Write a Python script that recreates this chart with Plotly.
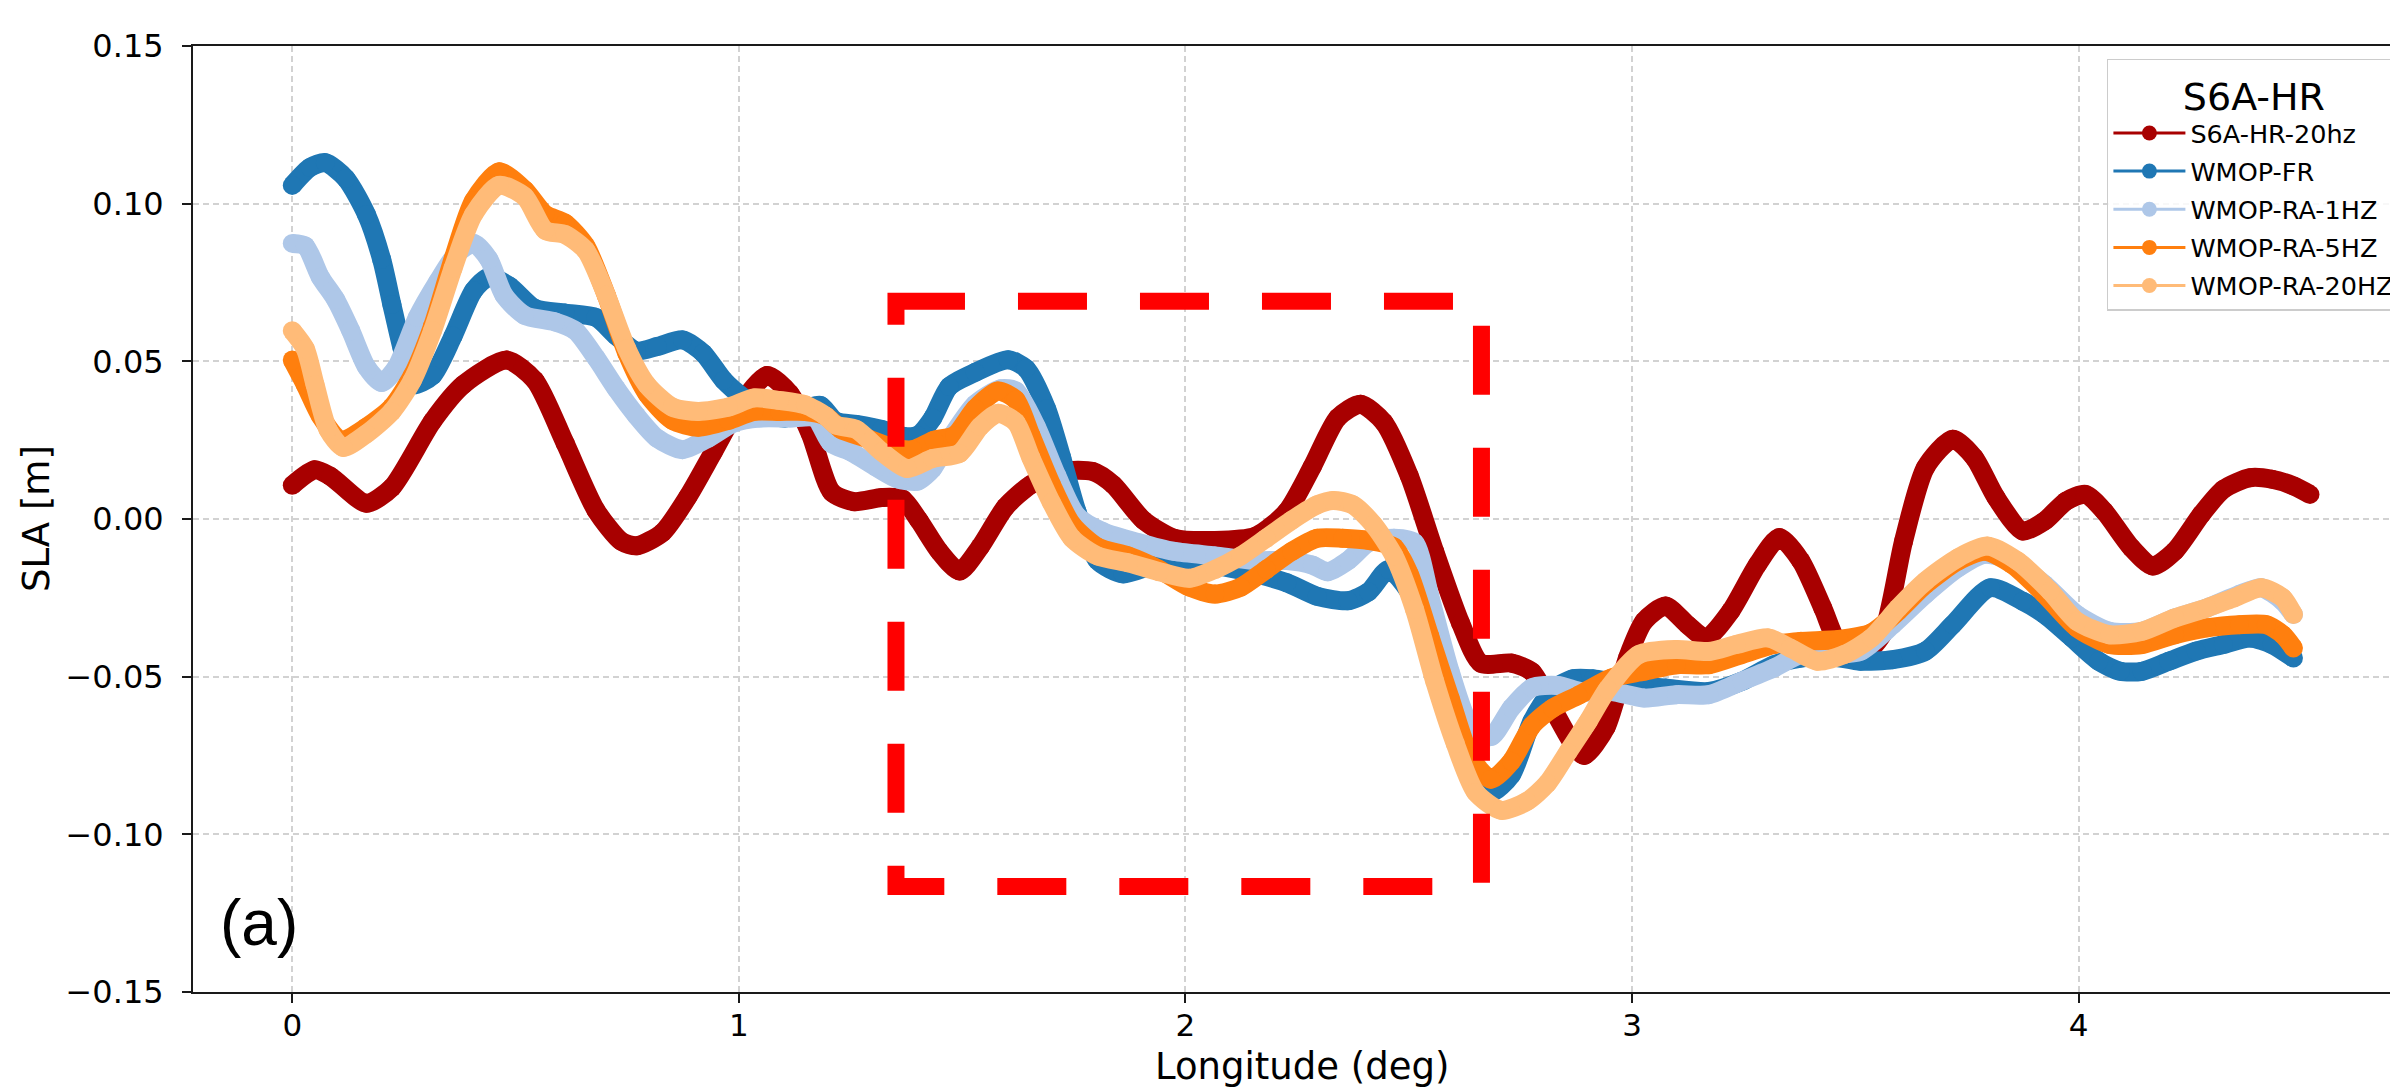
import plotly.graph_objects as go

# ---------------- data ----------------
series_names = ["S6A-HR-20hz", "WMOP-FR", "WMOP-RA-1HZ", "WMOP-RA-5HZ", "WMOP-RA-20HZ"]
series_colors = ["#a80000", "#1f77b4", "#aec7e8", "#ff7f0e", "#ffbb78"]

s6a_lon = [0.000, 0.050, 0.086, 0.166, 0.223, 0.314, 0.383, 0.480, 0.543, 0.611, 0.680, 0.737, 0.771, 0.829,
           0.886, 0.943, 1.000, 1.063, 1.114, 1.160, 1.208, 1.258, 1.320, 1.366, 1.403, 1.449, 1.494, 1.540,
           1.597, 1.654, 1.723, 1.792, 1.838, 1.906, 1.975, 2.066, 2.158, 2.227, 2.284, 2.341, 2.392, 2.444,
           2.501, 2.558, 2.616, 2.661, 2.730, 2.776, 2.822, 2.867, 2.893, 2.942, 2.990, 3.027, 3.075, 3.124,
           3.166, 3.221, 3.281, 3.330, 3.378, 3.427, 3.463, 3.512, 3.560, 3.608, 3.657, 3.718, 3.766, 3.815,
           3.875, 3.924, 3.972, 4.015, 4.057, 4.118, 4.166, 4.215, 4.275, 4.324, 4.384, 4.433, 4.481, 4.518]
s6a_sla = [0.0107, 0.0156, 0.0135, 0.0050, 0.0100, 0.0310, 0.0426, 0.0504, 0.0440, 0.0240, 0.0028, -0.0071,
           -0.0085, -0.0043, 0.0071, 0.0213, 0.0355, 0.0455, 0.0398, 0.0270, 0.0085, 0.0055, 0.0068, 0.0064,
           -0.0004, -0.0103, -0.0165, -0.0089, 0.0038, 0.0109, 0.0151, 0.0151, 0.0109, -0.0004, -0.0061,
           -0.0068, -0.0054, 0.0024, 0.0166, 0.0321, 0.0364, 0.0307, 0.0137, -0.0103, -0.0330, -0.0457,
           -0.0457, -0.0485, -0.0600, -0.0712, -0.0750, -0.0660, -0.0440, -0.0324, -0.0276, -0.0335, -0.0377,
           -0.0292, -0.0144, -0.0059, -0.0133, -0.0282, -0.0398, -0.0435, -0.0367, -0.0070, 0.0163, 0.0253,
           0.0195, 0.0068, -0.0038, -0.0006, 0.0057, 0.0078, 0.0025, -0.0091, -0.0149, -0.0102, 0.0015,
           0.0094, 0.0131, 0.0126, 0.0105, 0.0078]

fr_lon = [0.000, 0.040, 0.074, 0.120, 0.166, 0.200, 0.223, 0.246, 0.269, 0.314, 0.360, 0.406, 0.440, 0.486,
          0.543, 0.611, 0.680, 0.726, 0.771, 0.817, 0.874, 0.920, 0.966, 1.011, 1.057, 1.103, 1.160, 1.183,
          1.217, 1.263, 1.320, 1.366, 1.400, 1.434, 1.471, 1.529, 1.603, 1.643, 1.689, 1.723, 1.757, 1.803,
          1.860, 1.929, 1.998, 2.066, 2.158, 2.227, 2.295, 2.364, 2.410, 2.455, 2.501, 2.547, 2.593, 2.638,
          2.684, 2.730, 2.776, 2.822, 2.867, 2.913, 2.954, 3.027, 3.075, 3.172, 3.245, 3.318, 3.378, 3.439,
          3.512, 3.584, 3.657, 3.718, 3.802, 3.875, 3.924, 3.985, 4.045, 4.093, 4.142, 4.202, 4.263, 4.324,
          4.384, 4.433, 4.481]
fr_sla = [0.1058, 0.1115, 0.1130, 0.1080, 0.0966, 0.0824, 0.0680, 0.0540, 0.0426, 0.0455, 0.0580, 0.0724,
          0.0767, 0.0739, 0.0668, 0.0653, 0.0639, 0.0580, 0.0533, 0.0547, 0.0568, 0.0526, 0.0440, 0.0384,
          0.0341, 0.0320, 0.0355, 0.0360, 0.0310, 0.0300, 0.0284, 0.0263, 0.0265, 0.0320, 0.0420, 0.0465,
          0.0505, 0.0477, 0.0350, 0.0194, 0.0024, -0.0132, -0.0174, -0.0146, -0.0132, -0.0146, -0.0174,
          -0.0202, -0.0245, -0.0259, -0.0231, -0.0160, -0.0231, -0.0372, -0.0570, -0.0754, -0.0867, -0.0811,
          -0.0641, -0.0542, -0.0507, -0.0507, -0.0515, -0.0530, -0.0536, -0.0547, -0.0515, -0.0462, -0.0441,
          -0.0435, -0.0451, -0.0446, -0.0419, -0.0335, -0.0218, -0.0261, -0.0303, -0.0377, -0.0451, -0.0483,
          -0.0483, -0.0451, -0.0419, -0.0398, -0.0377, -0.0398, -0.0441]

ra1_lon = [0.000, 0.029, 0.063, 0.097, 0.131, 0.166, 0.200, 0.234, 0.280, 0.326, 0.366, 0.406, 0.440, 0.474,
           0.520, 0.589, 0.634, 0.680, 0.726, 0.771, 0.817, 0.874, 0.931, 0.989, 1.046, 1.114, 1.171, 1.206,
           1.251, 1.309, 1.354, 1.400, 1.434, 1.471, 1.529, 1.586, 1.620, 1.666, 1.712, 1.757, 1.815, 1.895,
           1.975, 2.066, 2.158, 2.227, 2.284, 2.318, 2.364, 2.410, 2.467, 2.513, 2.547, 2.593, 2.638, 2.684,
           2.730, 2.776, 2.833, 2.890, 2.954, 3.027, 3.099, 3.172, 3.245, 3.318, 3.378, 3.439, 3.512, 3.584,
           3.657, 3.730, 3.790, 3.851, 3.924, 3.996, 4.069, 4.142, 4.215, 4.287, 4.360, 4.409, 4.457, 4.481]
ra1_sla = [0.0874, 0.0866, 0.0767, 0.0696, 0.0597, 0.0483, 0.0433, 0.0483, 0.0639, 0.0753, 0.0838, 0.0874,
           0.0824, 0.0710, 0.0646, 0.0625, 0.0597, 0.0511, 0.0412, 0.0327, 0.0256, 0.0220, 0.0256, 0.0305,
           0.0320, 0.0320, 0.0320, 0.0241, 0.0213, 0.0163, 0.0128, 0.0120, 0.0160, 0.0250, 0.0364, 0.0413,
           0.0406, 0.0293, 0.0137, 0.0010, -0.0040, -0.0075, -0.0103, -0.0117, -0.0132, -0.0132, -0.0146,
           -0.0167, -0.0132, -0.0075, -0.0061, -0.0075, -0.0245, -0.0485, -0.0655, -0.0690, -0.0599, -0.0535,
           -0.0528, -0.0549, -0.0547, -0.0568, -0.0557, -0.0557, -0.0515, -0.0472, -0.0430, -0.0430, -0.0419,
           -0.0335, -0.0239, -0.0155, -0.0112, -0.0133, -0.0208, -0.0303, -0.0356, -0.0356, -0.0314, -0.0282,
           -0.0239, -0.0218, -0.0261, -0.0303]

ra5_lon = [0.000, 0.029, 0.063, 0.109, 0.166, 0.223, 0.269, 0.314, 0.360, 0.406, 0.463, 0.520, 0.566, 0.611,
           0.657, 0.703, 0.749, 0.794, 0.851, 0.909, 0.977, 1.034, 1.091, 1.149, 1.194, 1.229, 1.286, 1.343,
           1.389, 1.437, 1.483, 1.529, 1.580, 1.620, 1.654, 1.700, 1.746, 1.803, 1.872, 1.941, 2.009, 2.066,
           2.124, 2.181, 2.238, 2.295, 2.352, 2.410, 2.467, 2.501, 2.547, 2.593, 2.638, 2.684, 2.730, 2.776,
           2.822, 2.879, 2.954, 3.027, 3.099, 3.172, 3.245, 3.318, 3.378, 3.463, 3.536, 3.596, 3.657, 3.730,
           3.790, 3.851, 3.924, 3.996, 4.069, 4.142, 4.215, 4.287, 4.360, 4.420, 4.457, 4.481]
ra5_sla = [0.0504, 0.0426, 0.0327, 0.0249, 0.0291, 0.0355, 0.0455, 0.0611, 0.0824, 0.1009, 0.1101, 0.1044,
           0.0966, 0.0938, 0.0866, 0.0710, 0.0526, 0.0398, 0.0313, 0.0291, 0.0313, 0.0341, 0.0341, 0.0341,
           0.0327, 0.0284, 0.0256, 0.0227, 0.0220, 0.0250, 0.0265, 0.0350, 0.0406, 0.0378, 0.0265, 0.0109,
           -0.0018, -0.0089, -0.0117, -0.0160, -0.0216, -0.0238, -0.0216, -0.0160, -0.0103, -0.0061, -0.0061,
           -0.0068, -0.0089, -0.0174, -0.0372, -0.0570, -0.0754, -0.0825, -0.0768, -0.0655, -0.0600, -0.0560,
           -0.0504, -0.0483, -0.0462, -0.0462, -0.0430, -0.0398, -0.0388, -0.0382, -0.0361, -0.0292, -0.0208,
           -0.0133, -0.0102, -0.0144, -0.0239, -0.0345, -0.0398, -0.0398, -0.0367, -0.0345, -0.0335, -0.0335,
           -0.0367, -0.0409]

ra20_lon = [0.000, 0.029, 0.051, 0.080, 0.114, 0.166, 0.223, 0.269, 0.314, 0.360, 0.406, 0.463, 0.520, 0.566,
            0.611, 0.657, 0.703, 0.749, 0.794, 0.851, 0.909, 0.977, 1.034, 1.091, 1.149, 1.194, 1.217, 1.263,
            1.320, 1.377, 1.434, 1.494, 1.540, 1.580, 1.620, 1.654, 1.700, 1.746, 1.803, 1.872, 1.941, 2.009,
            2.066, 2.124, 2.181, 2.238, 2.295, 2.330, 2.375, 2.421, 2.467, 2.513, 2.558, 2.604, 2.650, 2.707,
            2.764, 2.810, 2.856, 2.902, 2.945, 3.015, 3.099, 3.172, 3.233, 3.305, 3.354, 3.415, 3.475, 3.536,
            3.596, 3.657, 3.730, 3.796, 3.863, 3.936, 3.996, 4.069, 4.142, 4.215, 4.287, 4.348, 4.409, 4.457,
            4.481]
ra20_sla = [0.0597, 0.0540, 0.0426, 0.0284, 0.0227, 0.0270, 0.0341, 0.0440, 0.0597, 0.0795, 0.0966, 0.1058,
            0.1023, 0.0916, 0.0902, 0.0852, 0.0710, 0.0540, 0.0426, 0.0355, 0.0341, 0.0355, 0.0384, 0.0376,
            0.0362, 0.0327, 0.0298, 0.0284, 0.0213, 0.0160, 0.0192, 0.0208, 0.0293, 0.0335, 0.0307, 0.0194,
            0.0052, -0.0061, -0.0117, -0.0139, -0.0167, -0.0188, -0.0160, -0.0117, -0.0061, -0.0004, 0.0045,
            0.0059, 0.0045, -0.0018, -0.0117, -0.0287, -0.0514, -0.0712, -0.0867, -0.0924, -0.0896, -0.0839,
            -0.0740, -0.0641, -0.0540, -0.0430, -0.0414, -0.0420, -0.0398, -0.0377, -0.0409, -0.0451, -0.0430,
            -0.0377, -0.0282, -0.0197, -0.0123, -0.0086, -0.0133, -0.0229, -0.0324, -0.0367, -0.0356, -0.0314,
            -0.0282, -0.0250, -0.0218, -0.0250, -0.0303]

x_ticks = [0, 1, 2, 3, 4]
y_ticks = [-0.15, -0.10, -0.05, 0.00, 0.05, 0.10, 0.15]

# highlighted region (lon_min, lon_max, sla_min, sla_max)
box_lon = [1.3518, 2.6628]
box_sla = [-0.11655, 0.06909]

panel_label = "(a)"
legend_title = "S6A-HR"
x_title = "Longitude (deg)"
y_title = "SLA [m]"

# ---------------- figure ----------------
all_lon = [s6a_lon, fr_lon, ra1_lon, ra5_lon, ra20_lon]
all_sla = [s6a_sla, fr_sla, ra1_sla, ra5_sla, ra20_sla]

fig = go.Figure()
LW = 19
for name, col, xs, ys in zip(series_names, series_colors, all_lon, all_sla):
    fig.add_trace(go.Scatter(
        x=xs, y=ys, mode="lines+markers", name=name, showlegend=False,
        line=dict(color=col, width=LW, shape="spline", smoothing=0.7),
        marker=dict(color=col, size=LW, line=dict(width=0)),
        hoverinfo="skip"))

# legend handles (line + dot like matplotlib 'o-')
for i, (name, col) in enumerate(zip(series_names, series_colors)):
    fig.add_trace(go.Scatter(
        x=[None], y=[None], mode="lines+markers", name=name, legendgroup=f"g{i}",
        line=dict(color=col, width=3), marker=dict(color=col, size=15)))

# dashed highlight box: path starts top-left, goes clockwise
fig.add_shape(type="rect", xref="x", yref="y",
              x0=box_lon[0], y0=box_sla[1], x1=box_lon[1], y1=box_sla[0],
              line=dict(color="#ff0000", width=17, dash="69px,53px"),
              fillcolor="rgba(0,0,0,0)", layer="above")

fig.add_annotation(x=-0.075, y=-0.128, xref="x", yref="y", text=panel_label,
                   showarrow=False, xanchor="center", yanchor="middle",
                   font=dict(family="Liberation Sans", size=64, color="#000000"))

fig.add_annotation(x=0.5011, y=-0.079, xref="paper", yref="paper", text=x_title,
                   showarrow=False, xanchor="center", yanchor="middle", borderpad=0,
                   font=dict(family="DejaVu Sans", size=37, color="#000000"))
fig.add_annotation(x=-0.0709, y=0.5, xref="paper", yref="paper", text=y_title, textangle=-90,
                   showarrow=False, xanchor="center", yanchor="middle",
                   font=dict(family="DejaVu Sans", size=37, color="#000000"))

grid = dict(showgrid=True, gridcolor="#d2d2d2", gridwidth=1.5, griddash="6px,4px")
fig.update_xaxes(range=[-0.2223, 4.733], tickvals=x_ticks, ticktext=[str(v) for v in x_ticks],
                 showline=True, linecolor="#1a1a1a", linewidth=2, mirror=True,
                 ticks="outside", ticklen=9, tickwidth=2, tickcolor="#1a1a1a",
                 tickfont=dict(family="DejaVu Sans", size=31, color="#000000"),
                 ticklabelstandoff=-4, zeroline=False, **grid)
fig.update_yaxes(range=[-0.15, 0.15], tickvals=y_ticks, tickformat=".2f",
                 showline=True, linecolor="#1a1a1a", linewidth=2, mirror=False,
                 ticks="outside", ticklen=9, tickwidth=2, tickcolor="#1a1a1a",
                 tickfont=dict(family="DejaVu Sans", size=32, color="#000000"),
                 ticklabelstandoff=12, zeroline=False, **grid)

fig.update_layout(
    width=2398, height=1088,
    margin=dict(l=185, r=0, t=38, b=104),
    paper_bgcolor="white", plot_bgcolor="white",
    font=dict(family="DejaVu Sans", color="#000000"),
    legend=dict(x=0.9977, y=0.9863, xanchor="right", yanchor="top",
                bgcolor="rgba(255,255,255,0.85)", bordercolor="#cccccc", borderwidth=1.5,
                font=dict(family="DejaVu Sans", size=25.5, color="#000000"),
                title=dict(text=legend_title, side="top center",
                           font=dict(family="DejaVu Sans", size=38, color="#000000")),
                itemwidth=72, tracegroupgap=2),
    showlegend=True,
)

fig.write_html("out.html")
